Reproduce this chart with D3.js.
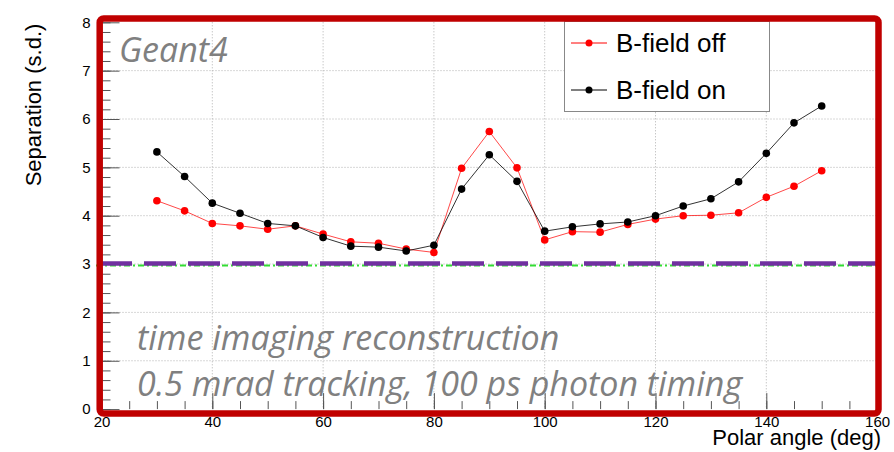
<!DOCTYPE html>
<html lang="en">
<head>
<meta charset="utf-8">
<title>Separation vs polar angle</title>
<script src="https://d3js.org/d3.v7.min.js"></script>
<style>
  body { margin: 0; background: #fff; }
  text { font-family: "Liberation Sans", Arial, sans-serif; }
  .note { font-family: "Open Sans", sans-serif; font-style: italic; fill: #808080; }
</style>
</head>
<body>
<div id="chart"></div>

<script>
// data
const angles = [30, 35, 40, 45, 50, 55, 60, 65, 70, 75, 80, 85, 90, 95, 100,
                105, 110, 115, 120, 125, 130, 135, 140, 145, 150];
const sepOff = [4.31, 4.10, 3.84, 3.79, 3.72, 3.79, 3.62, 3.46, 3.43, 3.31, 3.24, 4.98, 5.74, 4.99, 3.50,
                3.67, 3.66, 3.82, 3.93, 4.00, 4.01, 4.06, 4.38, 4.61, 4.93];
const sepOn  = [5.32, 4.81, 4.26, 4.05, 3.84, 3.79, 3.55, 3.37, 3.35, 3.27, 3.39, 4.55, 5.26, 4.71, 3.68,
                3.77, 3.83, 3.87, 4.00, 4.20, 4.35, 4.70, 5.29, 5.92, 6.27];
const seriesNames = ["B-field off", "B-field on"];
const seriesColors = ["#ff0000", "#000000"];
const xTicks = [20, 40, 60, 80, 100, 120, 140, 160];
const yTicks = [0, 1, 2, 3, 4, 5, 6, 7, 8];
const threshold = 3;

const width = 894, height = 452;

const svg = d3.select("#chart")
  .append("svg")
    .attr("width", width)
    .attr("height", height);

const x = d3.scaleLinear().domain([20, 160]).range([101.5, 877.1]);
const y = d3.scaleLinear().domain([0, 8]).range([409.1, 22.3]);

// grid (dotted)
svg.append("g")
  .selectAll("line")
  .data(xTicks.slice(1, -1))
  .join("line")
    .attr("x1", d => x(d)).attr("x2", d => x(d))
    .attr("y1", y(8)).attr("y2", y(0))
    .attr("stroke", "#b0b0b0").attr("stroke-dasharray", "1,2");
svg.append("g")
  .selectAll("line")
  .data(yTicks.slice(1, -1))
  .join("line")
    .attr("x1", x(20)).attr("x2", x(160))
    .attr("y1", d => y(d)).attr("y2", d => y(d))
    .attr("stroke", "#b0b0b0").attr("stroke-dasharray", "1,2");

// axes with ROOT-like ticks (minor inside)
const yAxis = svg.append("g")
  .attr("transform", `translate(${x(20)},0)`)
  .call(d3.axisLeft(y).tickValues(d3.range(0, 8.01, 0.2)).tickSize(-9).tickFormat(""));
yAxis.selectAll(".tick line").attr("stroke", "#555");
yAxis.select(".domain").remove();
const yMajor = svg.append("g")
  .attr("transform", `translate(${x(20)},0)`)
  .call(d3.axisLeft(y).tickValues(yTicks).tickSize(-18).tickPadding(11).tickFormat(d3.format("d")));
yMajor.selectAll(".tick line").attr("stroke", "#555");
yMajor.selectAll(".tick text").attr("font-size", 15).attr("fill", "#000")
  .attr("font-family", "Liberation Sans, Arial, sans-serif");
yMajor.select(".domain").remove();

const xAxis = svg.append("g")
  .attr("transform", `translate(0,${y(0)})`)
  .call(d3.axisBottom(x).tickValues(d3.range(20, 160.1, 5)).tickSize(-8).tickFormat(""));
xAxis.selectAll(".tick line").attr("stroke", "#555");
xAxis.select(".domain").remove();
const xMajor = svg.append("g")
  .attr("transform", `translate(0,${y(0)})`)
  .call(d3.axisBottom(x).tickValues(xTicks).tickSize(-16).tickPadding(7).tickFormat(d3.format("d")));
xMajor.selectAll(".tick line").attr("stroke", "#555");
xMajor.selectAll(".tick text").attr("font-size", 15).attr("fill", "#000")
  .attr("font-family", "Liberation Sans, Arial, sans-serif");
xMajor.select(".domain").remove();

// 3 sigma line: green dash-dot under purple dashes
svg.append("line")
  .attr("x1", 96).attr("x2", x(160))
  .attr("y1", y(threshold) + 1.5).attr("y2", y(threshold) + 1.5)
  .attr("stroke", "#33dd33").attr("stroke-width", 2)
  .attr("stroke-dasharray", "6,3,2,3");
svg.append("line")
  .attr("x1", 100).attr("x2", x(160))
  .attr("y1", y(threshold) - 0.5).attr("y2", y(threshold) - 0.5)
  .attr("stroke", "#7030a0").attr("stroke-width", 4.5)
  .attr("stroke-dasharray", "32,12");

// series
const series = [sepOff, sepOn];
const line = d3.line()
  .x((d, i) => x(angles[i]))
  .y(d => y(d));

series.forEach(function(vals, k) {
  svg.append("path")
    .datum(vals)
    .attr("fill", "none")
    .attr("stroke", seriesColors[k])
    .attr("stroke-width", k === 0 ? 0.9 : 1)
    .attr("stroke-opacity", 0.8)
    .attr("d", line);
  svg.append("g")
    .selectAll("circle")
    .data(vals)
    .join("circle")
      .attr("cx", (d, i) => x(angles[i]))
      .attr("cy", d => y(d))
      .attr("r", 3.8)
      .attr("fill", seriesColors[k]);
});

// legend
const legend = svg.append("g");
legend.append("rect")
  .attr("x", 564.5).attr("y", 21.5)
  .attr("width", 205).attr("height", 90)
  .attr("fill", "#fff").attr("stroke", "#888");
seriesNames.forEach(function(name, k) {
  const ly = 43 + k * 47;
  legend.append("line")
    .attr("x1", 571).attr("x2", 607)
    .attr("y1", ly).attr("y2", ly)
    .attr("stroke", seriesColors[k]).attr("stroke-width", 1);
  legend.append("circle")
    .attr("cx", 589).attr("cy", ly).attr("r", 3.5)
    .attr("fill", seriesColors[k]);
  legend.append("text")
    .attr("x", 616).attr("y", ly + 9)
    .attr("font-size", 26)
    .attr("fill", "#000")
    .text(name);
});

// annotations
svg.append("text").attr("class", "note")
  .attr("x", 119).attr("y", 62)
  .attr("font-size", 34)
  .text("Geant4");
svg.append("text").attr("class", "note")
  .attr("x", 137).attr("y", 350)
  .attr("font-size", 34)
  .text("time imaging reconstruction");
svg.append("text").attr("class", "note")
  .attr("x", 137).attr("y", 396)
  .attr("font-size", 34)
  .text("0.5 mrad tracking, 100 ps photon timing");

// axis titles
svg.append("text")
  .attr("text-anchor", "middle")
  .attr("transform", "translate(41,105) rotate(-90)")
  .attr("font-size", 22)
  .text("Separation (s.d.)");
svg.append("text")
  .attr("text-anchor", "end")
  .attr("x", 881).attr("y", 445)
  .attr("font-size", 22)
  .text("Polar angle (deg)");

// red frame on top
svg.append("rect")
  .attr("x", 99.7).attr("y", 18.5)
  .attr("width", 878.5 - 99.7).attr("height", 413.5 - 18.5)
  .attr("rx", 4)
  .attr("fill", "none")
  .attr("stroke", "#c00000")
  .attr("stroke-width", 6.5);
</script>
</body>
</html>
